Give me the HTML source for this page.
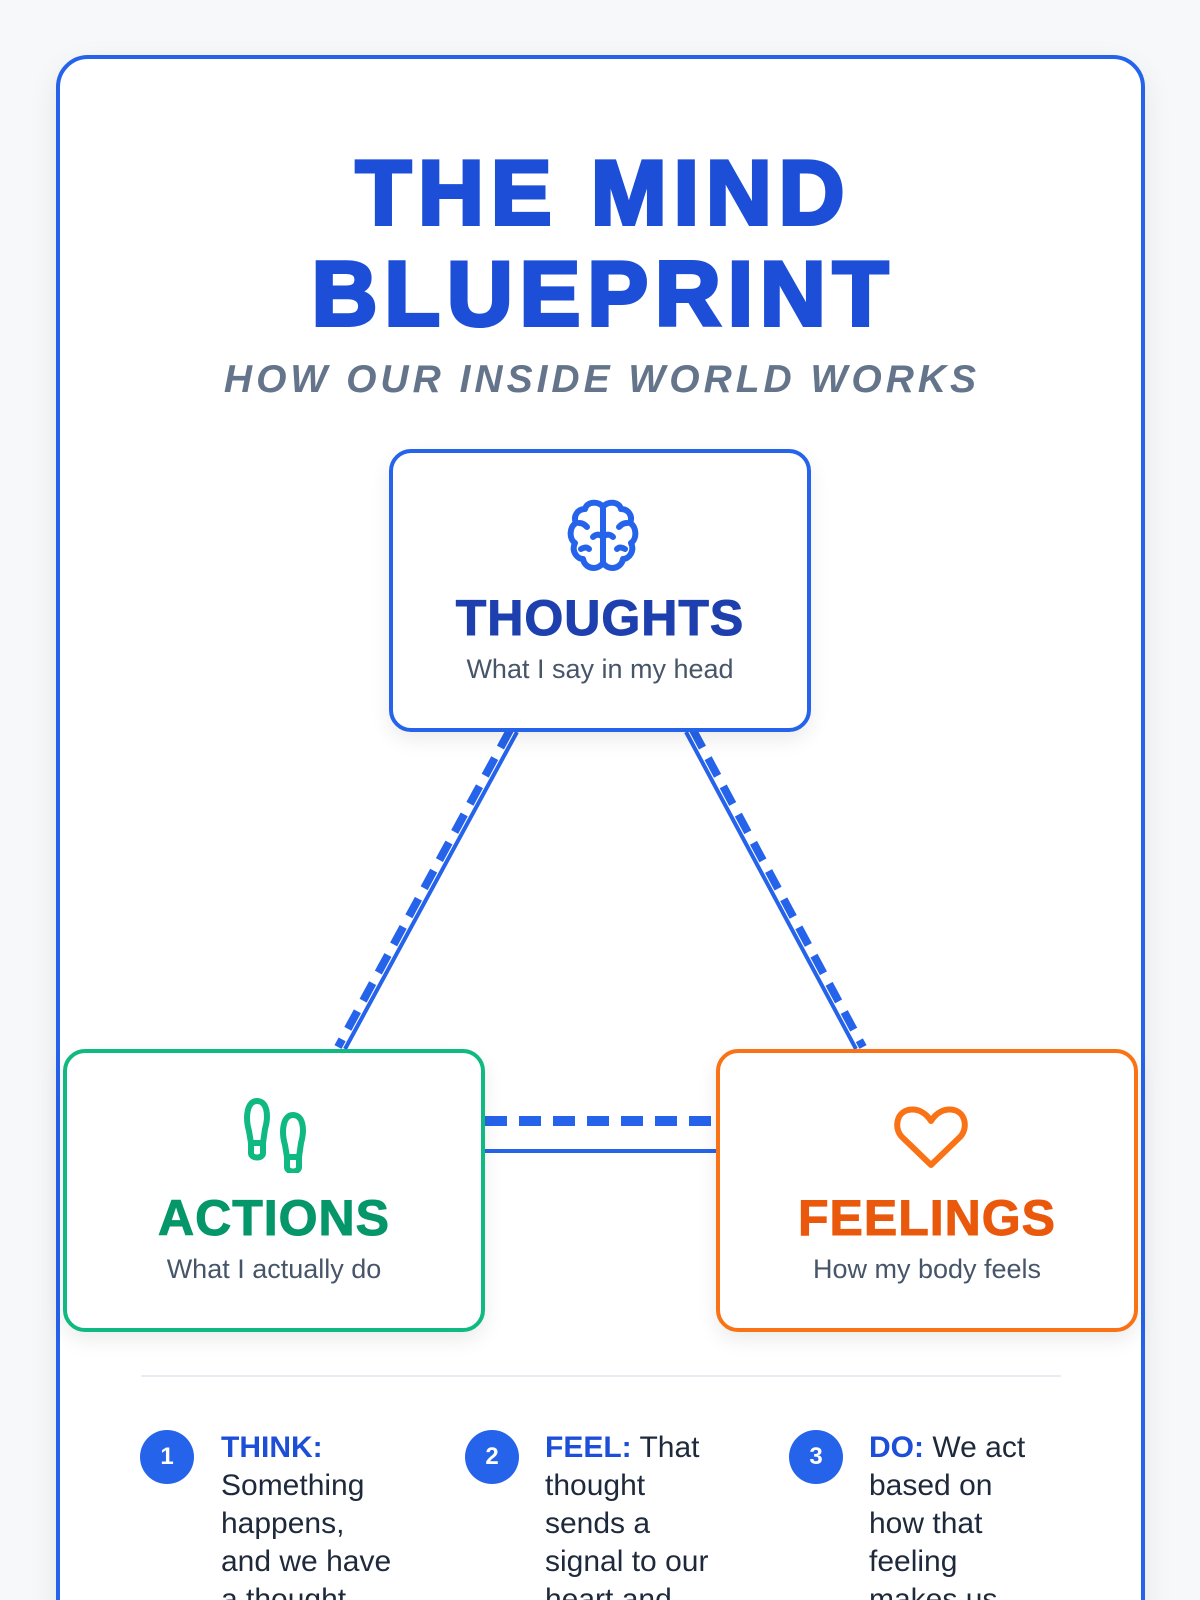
<!DOCTYPE html>
<html><head><meta charset="utf-8"><style>
*{margin:0;padding:0;box-sizing:border-box}
html,body{width:1200px;height:1600px;overflow:hidden}
body{background:#f7f8fa;font-family:"Liberation Sans",sans-serif}
#wrap{position:relative;width:1200px;height:1600px;overflow:hidden}
.card{position:absolute;left:56px;top:55px;width:1089px;height:1600px;background:#fff;border:4px solid #2563eb;border-radius:32px;box-shadow:0 10px 30px rgba(0,0,0,.08)}
.t{position:absolute;left:0;width:1200px;padding-left:7px;text-align:center;font-weight:900;color:#1d4ed8;font-size:91px;line-height:100px;letter-spacing:7px;-webkit-text-stroke:4px #1d4ed8}
.sub{position:absolute;left:0;width:1200px;top:358px;padding-left:4px;text-align:center;font-style:italic;font-weight:bold;color:#64748b;font-size:39px;letter-spacing:4px}
.box{position:absolute;background:#fff;border:4px solid;border-radius:22px;box-shadow:0 8px 20px rgba(0,0,0,.08);text-align:center}
.box h2{position:absolute;left:0;width:100%;font-size:50px;font-weight:900;letter-spacing:1px;-webkit-text-stroke:1px currentColor}
.box p{position:absolute;left:0;width:100%;font-size:27px;color:#475569}
.step{position:absolute;top:1429px;width:176px;font-size:30px;line-height:38px;color:#1e293b}
.step b{color:#1d4ed8}
.num{position:absolute;top:1430px;width:54px;height:54px;border-radius:50%;background:#2563eb;color:#fff;font-weight:bold;font-size:24px;text-align:center;line-height:54px}
</style></head><body><div id="wrap">
<div class="card"></div>
<div class="t" style="top:144px">THE MIND</div>
<div class="t" style="top:245px">BLUEPRINT</div>
<div class="sub">HOW OUR INSIDE WORLD WORKS</div>
<svg width="1200" height="1600" style="position:absolute;left:0;top:0">
<line x1="517" y1="732" x2="345" y2="1049" stroke="#2563eb" stroke-width="4"/>
<line x1="510" y1="730" x2="338" y2="1047" stroke="#2563eb" stroke-width="8" stroke-dasharray="20 12"/>
<line x1="686" y1="732" x2="856" y2="1049" stroke="#2563eb" stroke-width="4"/>
<line x1="693" y1="730" x2="863" y2="1047" stroke="#2563eb" stroke-width="8" stroke-dasharray="20 12"/>
<line x1="485" y1="1121" x2="716" y2="1121" stroke="#2563eb" stroke-width="10" stroke-dasharray="22 12"/>
<line x1="485" y1="1151" x2="716" y2="1151" stroke="#2563eb" stroke-width="4"/>
<line x1="141" y1="1376" x2="1061" y2="1376" stroke="#e8edf3" stroke-width="2"/>
</svg>
<div class="box" style="left:389px;top:449px;width:422px;height:283px;border-color:#2563eb">
<svg style="position:absolute;left:172px;top:44px" width="76" height="80" viewBox="0 0 76 80" fill="none" stroke="#2563eb" stroke-width="6" stroke-linecap="round" stroke-linejoin="round">
<path d="M38 10 C34 4 22 4 20 12 C12 12 8 20 11 26 C4 30 4 42 10 46 C6 54 12 62 18 62 C20 72 32 74 38 66"/>
<path d="M38 10 C42 4 54 4 56 12 C64 12 68 20 65 26 C72 30 72 42 66 46 C70 54 64 62 58 62 C56 72 44 74 38 66"/>
<path d="M38 10 V66 M38 40 C34 36 30 38 28 40 M38 40 C42 36 46 38 48 40 M14 26 C18 26 20 28 22 30 M62 26 C58 26 56 28 54 30 M16 52 C20 50 22 50 24 52 M60 52 C56 50 54 50 52 52"/>
</svg>
<h2 style="top:136px;color:#1e40af">THOUGHTS</h2>
<p style="top:201px">What I say in my head</p>
</div>
<div class="box" style="left:63px;top:1049px;width:422px;height:283px;border-color:#10b981">
<svg style="position:absolute;left:176px;top:44px" width="70" height="76" viewBox="0 0 70 76" fill="none" stroke="#10b981" stroke-width="6">
<path d="M14 4 C4 4 2 20 6 34 L8 46 L20 46 L22 32 C26 18 24 4 14 4Z"/><path d="M8 46 V56 C8 62 20 62 20 56 V46"/>
<path d="M50 18 C40 18 38 34 42 48 L44 60 L56 60 L58 46 C62 32 60 18 50 18Z"/><path d="M44 60 V70 C44 76 56 76 56 70 V60"/>
</svg>
<h2 style="top:136px;color:#059669">ACTIONS</h2>
<p style="top:201px">What I actually do</p>
</div>
<div class="box" style="left:716px;top:1049px;width:422px;height:283px;border-color:#f97316">
<svg style="position:absolute;left:174px;top:52px" width="74" height="66" viewBox="0 0 74 66" fill="none" stroke="#f97316" stroke-width="6" stroke-linejoin="round">
<path d="M37 60 L8 32 C0 24 2 8 14 5 C24 3 32 8 37 16 C42 8 50 3 60 5 C72 8 74 24 66 32 Z"/>
</svg>
<h2 style="top:136px;color:#ea580c">FEELINGS</h2>
<p style="top:201px">How my body feels</p>
</div>
<div class="num" style="left:140px">1</div>
<div class="step" style="left:221px"><b>THINK:</b> Something happens, and we have a thought.</div>
<div class="num" style="left:465px">2</div>
<div class="step" style="left:545px"><b>FEEL:</b> That thought sends a signal to our heart and body.</div>
<div class="num" style="left:789px">3</div>
<div class="step" style="left:869px"><b>DO:</b> We act based on how that feeling makes us feel.</div>
</div></body></html>
